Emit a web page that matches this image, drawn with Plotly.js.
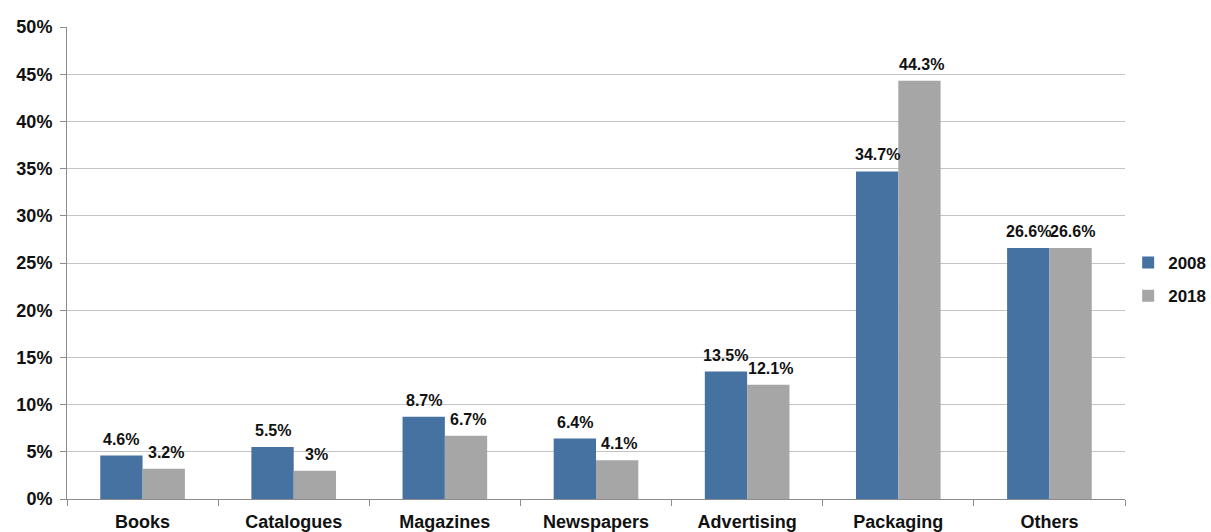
<!DOCTYPE html>
<html>
<head>
<meta charset="utf-8">
<script src="https://cdn.plot.ly/plotly-3.0.1.min.js"></script>
<style>html,body{margin:0;padding:0;background:#fff;}#chart{width:1211px;height:532px;}</style>
</head>
<body>
<div id="chart"></div>
<script>
const categories = ["Books", "Catalogues", "Magazines", "Newspapers", "Advertising", "Packaging", "Others"];
const values2008 = [4.6, 5.5, 8.7, 6.4, 13.5, 34.7, 26.6];
const values2018 = [3.2, 3.0, 6.7, 4.1, 12.1, 44.3, 26.6];
const labels2008 = ["4.6%", "5.5%", "8.7%", "6.4%", "13.5%", "34.7%", "26.6%"];
const labels2018 = ["3.2%", "3%", "6.7%", "4.1%", "12.1%", "44.3%", "26.6%"];
const yTicks = [0, 5, 10, 15, 20, 25, 30, 35, 40, 45, 50];
const yTickText = yTicks.map(v => v + "%");

const fontFam = "Liberation Sans, Arial, sans-serif";
const textFont = {family: fontFam, size: 16, color: "#111", weight: "bold"};

const traces = [
  {type: "bar", name: "2008", x: categories, y: values2008, legendgroup: "a",
   marker: {color: "#4672A1"}, hoverinfo: "none"},
  {type: "bar", name: "2018", x: categories, y: values2018, legendgroup: "b",
   marker: {color: "#A6A6A6"}, hoverinfo: "none"}
];

// value labels above bars, positioned through the category axis with a group offset
const W = 1211, H = 532, mL = 67, mR = 86, mT = 27, mB = 33, bargap = 0.44;
const barPx = (W - mL - mR) / categories.length * (1 - bargap) / 2;
const annotations = [];
categories.forEach((c, i) => {
  annotations.push({x: c, y: values2008[i], xref: "x", yref: "y", text: labels2008[i],
    showarrow: false, xshift: -barPx / 2, yshift: 6, yanchor: "bottom", font: textFont});
  annotations.push({x: c, y: values2018[i], xref: "x", yref: "y", text: labels2018[i],
    showarrow: false, xshift: barPx / 2 + 2, yshift: 6, yanchor: "bottom", font: textFont});
});

const layout = {
  width: W, height: H,
  margin: {l: mL, r: mR, t: mT, b: mB, autoexpand: false},
  paper_bgcolor: "#fff", plot_bgcolor: "#fff",
  barmode: "group", bargap: bargap, bargroupgap: 0,
  font: {family: fontFam, color: "#111"},
  annotations: annotations,
  xaxis: {
    type: "category", showgrid: false, showline: true, linecolor: "#8c8c8c", linewidth: 1,
    ticks: "outside", tickson: "boundaries", ticklen: 6, tickcolor: "#8c8c8c",
    ticklabelstandoff: 6,
    tickfont: {family: fontFam, size: 18, color: "#111", weight: "bold"}
  },
  yaxis: {
    range: [0, 50], tickvals: yTicks, ticktext: yTickText,
    showgrid: true, gridcolor: "#c4c4c4", gridwidth: 1,
    showline: true, linecolor: "#8c8c8c", linewidth: 1,
    ticks: "outside", ticklen: 6, tickcolor: "#8c8c8c",
    zeroline: false, ticklabelstandoff: 4,
    tickfont: {family: fontFam, size: 18, color: "#111", weight: "bold"}
  },
  legend: {
    x: 1.003, y: 0.465, xanchor: "left", yanchor: "middle",
    font: {family: fontFam, size: 17, color: "#111", weight: "bold"},
    itemwidth: 30, tracegroupgap: 8, traceorder: "grouped"
  },
  showlegend: true
};

Plotly.newPlot("chart", traces, layout, {displayModeBar: false, staticPlot: true});
</script>
</body>
</html>
